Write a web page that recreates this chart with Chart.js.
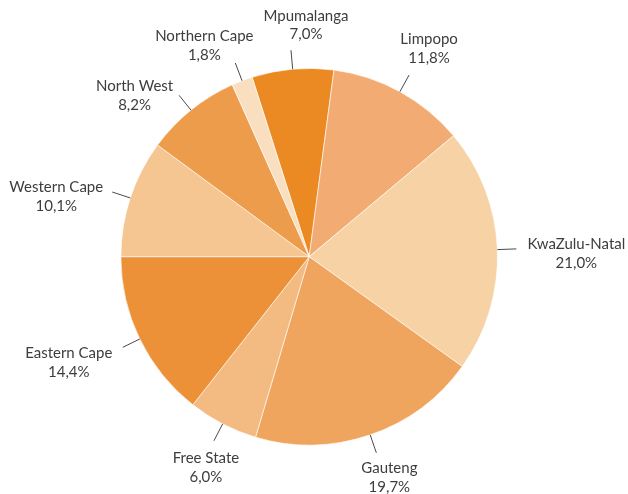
<!DOCTYPE html>
<html>
<head>
<meta charset="utf-8">
<script src="https://cdn.jsdelivr.net/npm/chart.js@4"></script>
<style>
  html, body { margin: 0; padding: 0; background: #ffffff; }
  #wrap { width: 628px; height: 494px; position: relative; }
</style>
</head>
<body>
<div id="wrap"><canvas id="c" width="628" height="494"></canvas></div>
<script>
// ---- data ----
const categories = ["Mpumalanga", "Limpopo", "KwaZulu-Natal", "Gauteng", "Free State",
                    "Eastern Cape", "Western Cape", "North West", "Northern Cape"];
const shares = [7.0, 11.8, 21.0, 19.7, 6.0, 14.4, 10.1, 8.2, 1.8];
const percentLabels = ["7,0%", "11,8%", "21,0%", "19,7%", "6,0%", "14,4%", "10,1%", "8,2%", "1,8%"];

// ---- styles / layout ----
const sliceColors = ["#EB8A22", "#F2AC73", "#F6D2A5", "#F0A55E", "#F3BA82",
                     "#EC9137", "#F5C592", "#ED9C4B", "#F9DEBF"];
// label block offset (dx, dy) relative to the outer end of each leader line
const labelOffsets = [[15, -25], [20, -26], [60, 5], [13, 25], [-8, 27],
                      [-54, 15], [-56, 5], [-44.5, 0.5], [-31, -17]];
const leaderLength = 19;
const labelFont = "15px Lato";
const labelColor = "#3d3d3d";
const lineHeight = 18.8;

const labelPlugin = {
  id: "pieLabels",
  afterDatasetsDraw(chart) {
    const ctx = chart.ctx;
    const meta = chart.getDatasetMeta(0);
    ctx.save();
    meta.data.forEach((arc, i) => {
      const p = arc.getProps(["x", "y", "startAngle", "endAngle", "outerRadius"], true);
      const mid = (p.startAngle + p.endAngle) / 2;
      const cx = Math.cos(mid), cy = Math.sin(mid);
      const x0 = p.x + cx * p.outerRadius, y0 = p.y + cy * p.outerRadius;
      const x1 = p.x + cx * (p.outerRadius + leaderLength), y1 = p.y + cy * (p.outerRadius + leaderLength);
      ctx.beginPath();
      ctx.moveTo(x0, y0);
      ctx.lineTo(x1, y1);
      ctx.strokeStyle = "#4a4a4a";
      ctx.lineWidth = 1;
      ctx.stroke();
      const tx = x1 + labelOffsets[i][0], ty = y1 + labelOffsets[i][1];
      ctx.fillStyle = labelColor;
      ctx.font = labelFont;
      ctx.textAlign = "center";
      ctx.textBaseline = "middle";
      ctx.fillText(categories[i], tx, ty - lineHeight / 2);
      ctx.fillText(percentLabels[i], tx, ty + lineHeight / 2);
    });
    ctx.restore();
  }
};

new Chart(document.getElementById("c"), {
  type: "pie",
  data: {
    labels: categories,
    datasets: [{
      data: shares,
      backgroundColor: sliceColors,
      borderColor: "#ffffff",
      borderWidth: 0.6,
      hoverOffset: 0
    }]
  },
  options: {
    responsive: false,
    animation: false,
    devicePixelRatio: 1,
    rotation: -17.64,
    layout: { padding: { left: 120.6, right: 130.2, top: 68, bottom: 48.6 } },
    plugins: {
      legend: { display: false },
      tooltip: { enabled: false }
    },
    events: []
  },
  plugins: [labelPlugin]
});
</script>
</body>
</html>
